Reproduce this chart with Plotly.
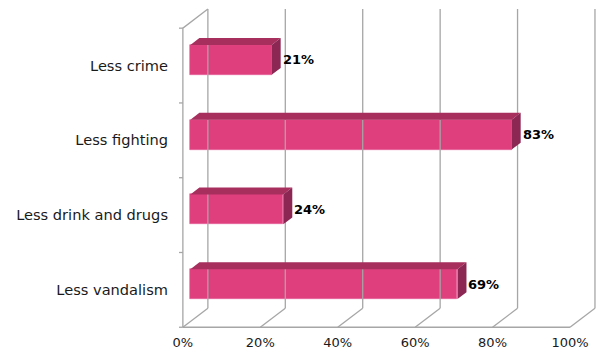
import plotly.graph_objects as go

# Survey results (share of respondents)
categories = ["Less vandalism", "Less drink and drugs", "Less fighting", "Less crime"]
values = [69, 24, 83, 21]
tick_values = [0, 20, 40, 60, 80, 100]
tick_labels = ["0%", "20%", "40%", "60%", "80%", "100%"]

# Oblique depth of the 3-D box, in axis units (x in %, y in category units)
DX = 6.46
DY = 0.255
F1, F2 = 0.30, 0.66   # bar front / back depth fractions
BAR_W = 0.40

FRONT = "#DF3F7D"
TOP = "#A72F5E"
SIDE = "#8C2753"
GRID = "#A6A6A6"

fig = go.Figure()

# --- walls, floor and gridlines ---
gx, gy = [], []
y0, y1 = -0.5, len(categories) - 0.5
for v in tick_values:
    # back-wall vertical gridline
    gx += [v + DX, v + DX, None]
    gy += [y0 + DY, y1 + DY, None]
    # floor diagonal
    gx += [v, v + DX, None]
    gy += [y0, y0 + DY, None]
# front floor edge
gx += [0, tick_values[-1], None]
gy += [y0, y0, None]
# front left axis and top diagonal of side wall
gx += [0, 0, DX, None]
gy += [y0, y1, y1 + DY, None]
# category tick marks on the left axis
for k in range(len(categories) + 1):
    yb = y0 + k
    gx += [-1.0, 0, None]
    gy += [yb, yb, None]

fig.add_trace(go.Scatter(x=gx, y=gy, mode="lines",
                         line=dict(color=GRID, width=1.3),
                         hoverinfo="skip", showlegend=False))

# --- bars ---
ypos = [i + F1 * DY for i in range(len(categories))]
base = F1 * DX
d = F2 - F1

fig.add_trace(go.Bar(
    orientation="h", x=values, y=ypos, base=base, width=BAR_W,
    marker=dict(color=FRONT, line=dict(color="#E4609A", width=0.6)),
    hoverinfo="skip", showlegend=False,
))

tx, ty, sx, sy = [], [], [], []
for v, yc in zip(values, ypos):
    b0, b1 = base, base + v
    yt, yb = yc + BAR_W / 2, yc - BAR_W / 2
    tx += [b0, b1, b1 + d * DX, b0 + d * DX, b0, None]
    ty += [yt, yt, yt + d * DY, yt + d * DY, yt, None]
    sx += [b1, b1, b1 + d * DX, b1 + d * DX, b1, None]
    sy += [yb, yt, yt + d * DY, yb + d * DY, yb, None]

fig.add_trace(go.Scatter(x=tx, y=ty, mode="lines", fill="toself",
                         fillcolor=TOP, line=dict(width=0, color=TOP),
                         hoverinfo="skip", showlegend=False))
fig.add_trace(go.Scatter(x=sx, y=sy, mode="lines", fill="toself",
                         fillcolor=SIDE, line=dict(width=0, color=SIDE),
                         hoverinfo="skip", showlegend=False))

# value labels beside each bar
for v, yc in zip(values, ypos):
    fig.add_annotation(x=base + v + d * DX, y=yc, text=f"<b>{v}%</b>",
                       showarrow=False, xanchor="left", yanchor="middle",
                       xshift=0,
                       font=dict(family="DejaVu Sans", size=13, color="black"))

fig.update_layout(
    width=603, height=352,
    margin=dict(l=179, r=4, t=2, b=21),
    paper_bgcolor="white", plot_bgcolor="white",
    font=dict(family="DejaVu Sans", size=13, color="#1a1a1a"),
    bargap=0,
    xaxis=dict(range=[-1, 107.5], tickvals=tick_values, ticktext=tick_labels,
               showgrid=False, zeroline=False, showline=False, ticks="",
               ticklabelstandoff=2, fixedrange=True),
    yaxis=dict(range=[-0.55, 3.85], tickvals=list(range(len(categories))),
               ticktext=categories, showgrid=False, zeroline=False,
               showline=False, ticks="", ticklabelstandoff=10,
               tickfont=dict(size=14.6), fixedrange=True),
)

fig.write_html("out.html")
